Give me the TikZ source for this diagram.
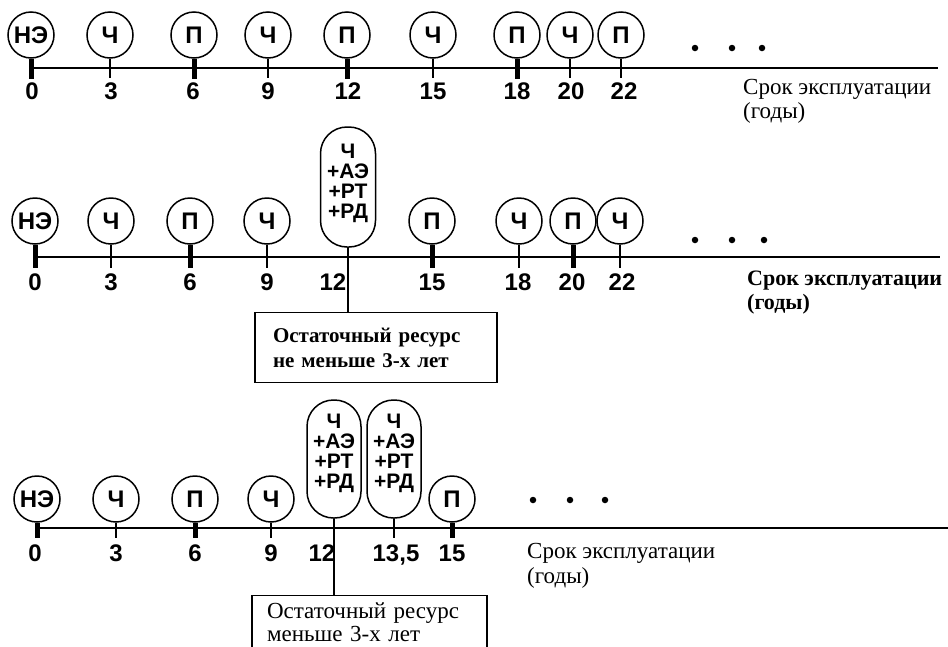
\documentclass[tikz,border=0pt]{standalone}
\usepackage{fontspec}
\setmainfont{Liberation Serif}
\setsansfont{Liberation Sans}
\begin{document}
\begin{tikzpicture}[x=1pt,y=-1pt,
  ev/.style={circle, draw, line width=1.5pt, minimum size=46pt, inner sep=0pt, font=\sffamily\bfseries\fontsize{24}{24}\selectfont},
  caps/.style={draw, line width=1.5pt, rounded corners=26.5pt, minimum width=55pt, minimum height=120pt, inner sep=0pt, align=center, font=\sffamily\bfseries\fontsize{21}{20}\selectfont},
  num/.style={font=\sffamily\bfseries\fontsize{24}{24}\selectfont, inner sep=0pt, text height=17pt, text depth=0pt},
  axisline/.style={line width=1.8pt},
  tk/.style={line width=1.3pt},
  tkb/.style={line width=5pt},
  lbl/.style={font=\fontsize{23}{24}\selectfont, anchor=west, inner sep=0pt},
  rbox/.style={draw, line width=1.3pt, anchor=north, align=left, inner ysep=0pt},
  pt/.style={circle, fill, inner sep=0pt, minimum size=6.5pt}
]
\clip (0,0) rectangle (948,646);

% ---------------- Row 1 ----------------
\node[ev] (a0) at (31,35) {НЭ};
\node[ev] (a3) at (110,35) {Ч};
\node[ev] (a6) at (194,35) {П};
\node[ev] (a9) at (268,35) {Ч};
\node[ev] (a12) at (347,35) {П};
\node[ev] (a15) at (433,35) {Ч};
\node[ev] (a18) at (517,35) {П};
\node[ev] (a20) at (570,35) {Ч};
\node[ev] (a22) at (621,35) {П};
\coordinate (ax1s) at (31,68);
\coordinate (ax1e) at (938,68);
\draw[axisline] (ax1s) -- (ax1e);
\draw[tkb] (a0.south) -- ++(0,20);
\draw[tk] (a3.south) -- ++(0,19);
\draw[tkb] (a6.south) -- ++(0,20);
\draw[tk] (a9.south) -- ++(0,19);
\draw[tkb] (a12.south) -- ++(0,20);
\draw[tk] (a15.south) -- ++(0,19);
\draw[tkb] (a18.south) -- ++(0,20);
\draw[tk] (a20.south) -- ++(0,19);
\draw[tk] (a22.south) -- ++(0,19);
\node[num] (n1a) at (32,91) {0};
\node[num] (n1b) at (111,91) {3};
\node[num] (n1c) at (193,91) {6};
\node[num] (n1d) at (268,91) {9};
\node[num] (n1e) at (348,91) {12};
\node[num] (n1f) at (433,91) {15};
\node[num] (n1g) at (517,91) {18};
\node[num] (n1h) at (571,91) {20};
\node[num] (n1i) at (624,91) {22};
\node[pt] (d1a) at (695,48) {};
\node[pt] (d1b) at (732,48) {};
\node[pt] (d1c) at (762,48) {};
\node[lbl] (t1a) at (743,89) {Срок эксплуатации};
\node[lbl] (t1b) at (743,113) {(годы)};

% ---------------- Row 2 ----------------
\node[ev] (b0) at (35,221) {НЭ};
\node[ev] (b3) at (111,221) {Ч};
\node[ev] (b6) at (190,221) {П};
\node[ev] (b9) at (267,221) {Ч};
\node[caps] (b12) at (348,187) {Ч\\+АЭ\\+РТ\\+РД\\[-8pt]};
\node[ev] (b15) at (432,221) {П};
\node[ev] (b18) at (519,221) {Ч};
\node[ev] (b20) at (573,221) {П};
\node[ev] (b22) at (620,221) {Ч};
\coordinate (ax2s) at (35,257);
\coordinate (ax2e) at (940,257);
\draw[axisline] (ax2s) -- (ax2e);
\draw[tkb] (b0.south) -- ++(0,23);
\draw[tk] (b3.south) -- ++(0,23);
\draw[tkb] (b6.south) -- ++(0,23);
\draw[tk] (b9.south) -- ++(0,23);
\draw[tkb] (b15.south) -- ++(0,23);
\draw[tk] (b18.south) -- ++(0,23);
\draw[tkb] (b20.south) -- ++(0,23);
\draw[tk] (b22.south) -- ++(0,23);
\node[num] (n2a) at (35,282) {0};
\node[num] (n2b) at (111,282) {3};
\node[num] (n2c) at (190,282) {6};
\node[num] (n2d) at (267,282) {9};
\node[num] (n2e) at (333,282) {12};
\node[num] (n2f) at (432,282) {15};
\node[num] (n2g) at (518,282) {18};
\node[num] (n2h) at (572,282) {20};
\node[num] (n2i) at (622,282) {22};
\node[pt] (d2a) at (695,240) {};
\node[pt] (d2b) at (732,240) {};
\node[pt] (d2c) at (764,240) {};
\node[lbl, font=\bfseries\fontsize{22}{24}\selectfont] (t2a) at (747,281) {Срок эксплуатации};
\node[lbl, font=\bfseries\fontsize{22}{24}\selectfont] (t2b) at (747,304) {(годы)};
\node[rbox, text width=206pt, inner xsep=18pt, minimum height=70pt, font=\bfseries\fontsize{21}{25}\selectfont] (box2) at (376,312) {Остаточный ресурс\\не меньше 3-х лет};
\draw[tk] (b12.south) -- (b12.south |- box2.north);

% ---------------- Row 3 ----------------
\node[ev] (c0) at (37,499) {НЭ};
\node[ev] (c3) at (116,499) {Ч};
\node[ev] (c6) at (195,499) {П};
\node[ev] (c9) at (271,499) {Ч};
\node[caps, minimum width=54pt, minimum height=118pt] (c12) at (334,459) {Ч\\+АЭ\\+РТ\\+РД\\[-4pt]};
\node[caps, minimum width=54pt, minimum height=118pt] (c13) at (394,459) {Ч\\+АЭ\\+РТ\\+РД\\[-4pt]};
\node[ev] (c15) at (452,499) {П};
\coordinate (ax3s) at (37,528);
\coordinate (ax3e) at (948,528);
\draw[axisline] (ax3s) -- (ax3e);
\draw[tkb] (c0.south) -- ++(0,15);
\draw[tk] (c3.south) -- ++(0,15);
\draw[tkb] (c6.south) -- ++(0,15);
\draw[tk] (c9.south) -- ++(0,15);
\draw[tk] (c13.south) -- ++(0,19);
\draw[tkb] (c15.south) -- ++(0,15);
\node[num] (n3a) at (35,553) {0};
\node[num] (n3b) at (116,553) {3};
\node[num] (n3c) at (195,553) {6};
\node[num] (n3d) at (271,553) {9};
\node[num] (n3e) at (322,553) {12};
\node[num] (n3f) at (396,553) {13,5};
\node[num] (n3g) at (452,553) {15};
\node[pt] (d3a) at (533,500) {};
\node[pt] (d3b) at (570,500) {};
\node[pt] (d3c) at (605,500) {};
\node[lbl] (t3a) at (527,553) {Срок эксплуатации};
\node[lbl] (t3b) at (527,578) {(годы)};
\node[rbox, text width=205pt, inner xsep=15pt, minimum height=54pt, font=\fontsize{23}{23}\selectfont] (box3) at (369.5,595) {Остаточный ресурс\\меньше 3-х лет};
\draw[tk] (c12.south) -- (c12.south |- box3.north);
\end{tikzpicture}
\end{document}
